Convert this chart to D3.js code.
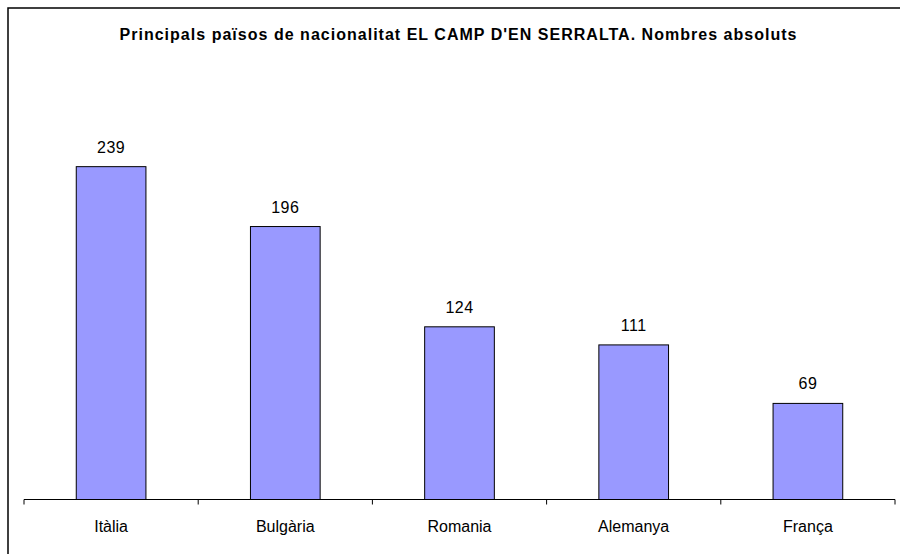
<!DOCTYPE html>
<html>
<head>
<meta charset="utf-8">
<script src="https://cdn.jsdelivr.net/npm/d3@7"></script>
<style>
  html, body { margin: 0; padding: 0; background: #fff; }
  svg { display: block; font-family: "Liberation Sans", Arial, sans-serif; }
</style>
</head>
<body>
<svg id="chart" width="900" height="554"></svg>
<script>
// Principal countries of nationality, absolute numbers
const titleText = "Principals països de nacionalitat EL CAMP D'EN SERRALTA. Nombres absoluts";
const countries = ["Itàlia", "Bulgària", "Romania", "Alemanya", "França"];
const residents = [239, 196, 124, 111, 69];
const yDomain = [0, 300];

const svg = d3.select("#chart");
const W = 900, H = 554;
const plot = { left: 24, right: 895, top: 81.7, bottom: 499.5 };

svg.append("rect").attr("width", W).attr("height", H).attr("fill", "#fff");

// chart-area frame (extends past the canvas on the right and bottom)
svg.append("rect")
  .attr("x", 8).attr("y", 8)
  .attr("width", 1200).attr("height", 1200)
  .attr("fill", "none").attr("stroke", "#000").attr("stroke-width", 1.5);

svg.append("text")
  .attr("x", 458).attr("y", 40)
  .attr("text-anchor", "middle")
  .attr("font-size", 16).attr("font-weight", "bold")
  .attr("textLength", 677).attr("lengthAdjust", "spacing")
  .attr("fill", "#000")
  .text(titleText);

const x = d3.scaleBand()
  .domain(countries)
  .range([plot.left, plot.right])
  .paddingInner(0.6)
  .paddingOuter(0.3);

const xTicks = d3.scaleBand()
  .domain(countries)
  .range([plot.left, plot.right])
  .padding(0);

const y = d3.scaleLinear().domain(yDomain).range([plot.bottom, plot.top]);

const data = countries.map((c, i) => ({ c, v: residents[i] }));

svg.append("g").selectAll("rect")
  .data(data).join("rect")
  .attr("x", d => x(d.c))
  .attr("y", d => y(d.v))
  .attr("width", x.bandwidth())
  .attr("height", d => y(0) - y(d.v))
  .attr("fill", "#9999FF")
  .attr("stroke", "#000").attr("stroke-width", 1);

svg.append("g").selectAll("text")
  .data(data).join("text")
  .attr("x", d => x(d.c) + x.bandwidth() / 2)
  .attr("y", d => y(d.v) - 14)
  .attr("text-anchor", "middle")
  .attr("font-size", 16).attr("letter-spacing", 0.5)
  .attr("fill", "#000")
  .text(d => d.v);

// category axis with tick marks between categories
const axisG = svg.append("g");
axisG.append("line")
  .attr("x1", plot.left).attr("x2", plot.right)
  .attr("y1", y(0)).attr("y2", y(0))
  .attr("stroke", "#000").attr("stroke-width", 1);

const tickPos = countries.map(c => xTicks(c)).concat([plot.right]);
axisG.selectAll("line.tick")
  .data(tickPos).join("line")
  .attr("class", "tick")
  .attr("x1", d => d).attr("x2", d => d)
  .attr("y1", y(0)).attr("y2", y(0) + 5)
  .attr("stroke", "#000").attr("stroke-width", 1);

axisG.selectAll("text")
  .data(countries).join("text")
  .attr("x", d => xTicks(d) + xTicks.bandwidth() / 2)
  .attr("y", 532)
  .attr("text-anchor", "middle")
  .attr("font-size", 16)
  .attr("fill", "#000")
  .text(d => d);
</script>
</body>
</html>
